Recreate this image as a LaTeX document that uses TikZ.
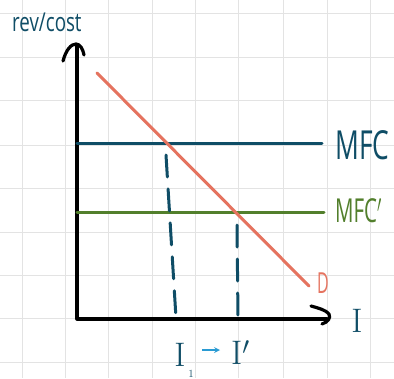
\documentclass[tikz,border=0pt]{standalone}
\usepackage{fontspec}
\setsansfont{Open Sans}
\begin{document}
\begin{tikzpicture}[x=1pt,y=-1pt,
  gridline/.style={draw=black!11, line width=1pt},
  axisline/.style={draw=black, line width=3.2pt, line cap=round, line join=round},
  curveline/.style={line width=3pt, line cap=round},
  dropline/.style={draw=tealc, line width=3pt, line cap=round, dash pattern=on 22pt off 12pt},
  lbl/.style={inner sep=0pt},
  ilbl/.style={inner sep=0pt, font=\fontsize{34}{34}\selectfont}]
\definecolor{tealc}{HTML}{0F4D66}
\definecolor{greenc}{HTML}{527F2C}
\definecolor{salmon}{HTML}{E5735F}
\definecolor{lblue}{HTML}{2A9BD3}
\useasboundingbox (0,0) rectangle (394,378);
\fill[white] (0,0) rectangle (394,378);
% grid
\foreach \gx in {22,65,108,152,195,238,283,327,370} \draw[gridline] (\gx,0) -- (\gx,378);
\foreach \gy in {13,57,100,145,188,232,275,318,362} \draw[gridline] (0,\gy) -- (394,\gy);
% coordinates
\coordinate (O) at (77,319);
\coordinate (Ytop) at (77,46);
\coordinate (Xend) at (327,319);
\coordinate (m1a) at (77,143);
\coordinate (m1b) at (322,143);
\coordinate (m2a) at (77,212);
\coordinate (m2b) at (324,212);
\coordinate (da) at (97,73);
\coordinate (db) at (309,286);
\coordinate (p1a) at (166,155);
\coordinate (p1b) at (176,318);
\coordinate (p2a) at (237,225);
\coordinate (p2b) at (238,318);
% axes
\draw[axisline] (Ytop) -- (O) -- (Xend);
\draw[axisline] (63,61) .. controls (66,50) and (71,44) .. (76,44) .. controls (80,44) and (83,49) .. (84,55);
\draw[axisline] (311,306) .. controls (318,308) and (326,310) .. (329,314) .. controls (331,318) and (328,322) .. (322,324);
% curves
\draw[curveline, draw=tealc] (m1a) -- (m1b);
\draw[curveline, draw=greenc] (m2a) -- (m2b);
\draw[curveline, draw=salmon] (da) -- (db);
\draw[dropline] (p1a) -- (p1b);
\draw[dropline] (p2a) -- (p2b);
% labels
\node[lbl, text=tealc, font=\sffamily\fontsize{26}{26}\selectfont, anchor=base west] (ylab) at (12,31) {\scalebox{0.72}[1]{rev/cost}};
\node[lbl, text=tealc, font=\sffamily\fontsize{40}{40}\selectfont, anchor=base west] (mfc) at (335,159) {\scalebox{0.66}[1]{MFC}};
\node[lbl, text=greenc, font=\sffamily\fontsize{33}{33}\selectfont, anchor=base west] (mfcp) at (335,222) {\scalebox{0.62}[1]{MFC$'$}};
\node[lbl, text=salmon, font=\sffamily\fontsize{29}{29}\selectfont, anchor=base west] (dlab) at (317,293) {\scalebox{0.55}[1]{D}};
\node[ilbl, text=tealc, anchor=base] (ilab) at (357,332) {I};
\node[ilbl, text=tealc, anchor=base] (i1) at (180,366) {I};
\node[inner sep=0pt, text=tealc, font=\fontsize{11}{11}\selectfont, anchor=base] (one) at (191,377) {1};
\draw[->, >=stealth, draw=lblue, line width=1.6pt] (202,350) -- (220,350);
\node[ilbl, text=tealc, anchor=base west] (ip) at (231,364) {I$'$};
\end{tikzpicture}
\end{document}
